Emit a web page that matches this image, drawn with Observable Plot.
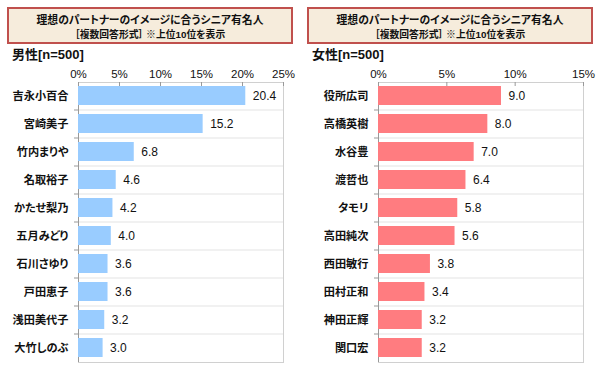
<!DOCTYPE html>
<html><head><meta charset="utf-8">
<script src="https://cdn.jsdelivr.net/npm/d3@7"></script>
<script src="https://cdn.jsdelivr.net/npm/@observablehq/plot@0.6"></script>
<style>
body{margin:0;background:#fff;font-family:"Liberation Sans","Noto Sans CJK JP",sans-serif;}
#wrap{position:relative;width:600px;height:368px;overflow:hidden;background:#fff;}
.panel{position:absolute;top:0;width:300px;height:368px;}
.tbox{position:absolute;left:7px;top:7px;width:282px;height:33px;border:2px solid #c0504d;background:#f6ecdc;text-align:center;font-feature-settings:"palt";color:#111;}
.t1{position:absolute;left:0;right:0;top:4px;font-size:10.8px;line-height:14px;font-weight:bold;}
.t2{position:absolute;left:0;right:0;top:20px;font-size:9.8px;line-height:12px;font-weight:bold;}
.nlab{position:absolute;left:12px;top:47px;font-size:13px;line-height:15px;font-weight:bold;z-index:2;color:#111;font-feature-settings:"palt";}
.chart{position:absolute;left:0;top:58px;}
svg text{font-feature-settings:"palt";}
</style></head>
<body>
<div id="wrap">
  <div class="panel" id="p1" style="left:0">
    <div class="tbox"><div class="t1">理想のパートナーのイメージに合うシニア有名人</div><div class="t2">［複数回答形式］ ※上位10位を表示</div></div>
    <div class="nlab">男性[n=500]</div>
    <div class="chart" id="c1"></div>
  </div>
  <div class="panel" id="p2" style="left:300px">
    <div class="tbox"><div class="t1">理想のパートナーのイメージに合うシニア有名人</div><div class="t2">［複数回答形式］ ※上位10位を表示</div></div>
    <div class="nlab">女性[n=500]</div>
    <div class="chart" id="c2"></div>
  </div>
</div>
<script>
const maleNames = ["吉永小百合","宮崎美子","竹内まりや","名取裕子","かたせ梨乃","五月みどり","石川さゆり","戸田恵子","浅田美代子","大竹しのぶ"];
const maleValues = [20.4,15.2,6.8,4.6,4.2,4.0,3.6,3.6,3.2,3.0];
const maleTicks = [0,5,10,15,20,25];

const femaleNames = ["役所広司","高橋英樹","水谷豊","渡哲也","タモリ","高田純次","西田敏行","田村正和","神田正輝","関口宏"];
const femaleValues = [9.0,8.0,7.0,6.4,5.8,5.6,3.8,3.4,3.2,3.2];
const femaleTicks = [0,5,10,15];

function makeChart(names, values, ticks, color) {
  const data = names.map((n, i) => ({name: n, value: values[i]}));
  const W = 300, H = 310, mt = 24, mb = 6, ml = 78, mr = 17;
  const step = (H - mt - mb) / names.length;
  const inner = names.slice(0, -1);
  return Plot.plot({
    width: W, height: H,
    marginTop: mt, marginBottom: mb, marginLeft: ml, marginRight: mr,
    style: {fontFamily: '"Liberation Sans","Noto Sans CJK JP",sans-serif', background: "transparent", color: "#111"},
    x: {domain: [ticks[0], ticks[ticks.length - 1]], label: null},
    y: {domain: names, paddingInner: 0.32, paddingOuter: 0.16, label: null},
    marks: [
      Plot.ruleY(inner, {y: d => d, dy: step / 2, stroke: "#e3e3e3"}),
      Plot.tickY(inner, {y: d => d, dy: step / 2, insetLeft: -4, insetRight: W - ml - mr, stroke: "#999"}),
      Plot.frame({stroke: "#d0d0d0"}),
      Plot.tickX(ticks, {x: d => d, insetBottom: H - mt - mb - 4, stroke: "#999"}),
      Plot.ruleX([0], {stroke: "#999"}),
      Plot.barX(data, {x: "value", y: "name", fill: color}),
      Plot.text(data, {x: "value", y: "name", text: d => d.value.toFixed(1), dx: 7, textAnchor: "start", fontSize: 12, fill: "#111"}),
      Plot.axisX({anchor: "top", ticks: ticks, tickSize: 0, tickPadding: 5, fontSize: 11.5, tickFormat: d => d + "%", fill: "#111", label: null}),
      Plot.axisY({tickSize: 0, tickPadding: 10, fontSize: 11.2, fontWeight: "bold", fill: "#111", label: null})
    ]
  });
}

document.getElementById("c1").append(makeChart(maleNames, maleValues, maleTicks, "#99ccff"));
document.getElementById("c2").append(makeChart(femaleNames, femaleValues, femaleTicks, "#ff7c80"));
</script>
</body></html>
